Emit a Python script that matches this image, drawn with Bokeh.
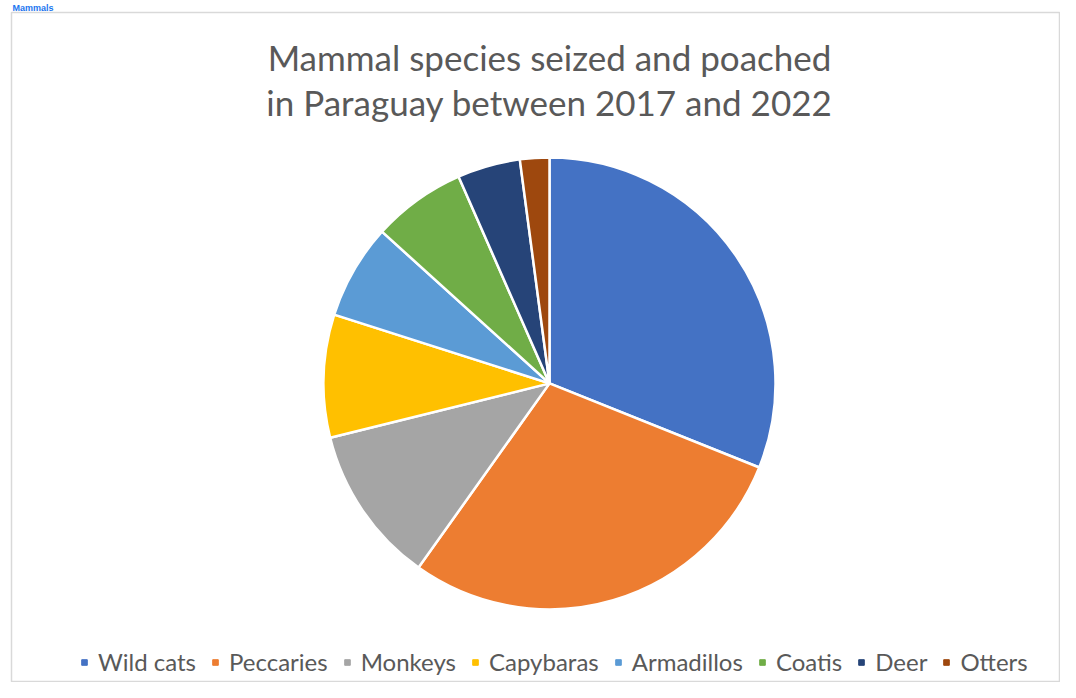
import math
import pandas as pd
from bokeh.plotting import figure
from bokeh.models import Range1d, Legend, LegendItem, ColumnDataSource, Title
from bokeh.core.properties import value
from bokeh.embed import file_html
from bokeh.resources import INLINE

categories = ["Wild cats", "Peccaries", "Monkeys", "Capybaras", "Armadillos", "Coatis", "Deer", "Otters"]
shares = [31.1, 28.8, 11.3, 8.8, 6.8, 6.7, 4.5, 2.1]
colors = ["#4472C4", "#ED7D31", "#A5A5A5", "#FFC000", "#5B9BD5", "#70AD47", "#264478", "#9E480E"]
title_lines = ["Mammal species seized and poached", "in Paraguay between 2017 and 2022"]
section_heading = "Mammals"

W, H = 1060, 682
FONT = "Lato"

df = pd.DataFrame({"cat": categories, "share": shares, "color": colors})
total = df["share"].sum()
frac = df["share"] / total
cum_end = frac.cumsum()
cum_start = cum_end - frac
# clockwise from 12 o'clock; draw anticlockwise from end to start
df["a0"] = math.pi / 2 - cum_end * 2 * math.pi
df["a1"] = math.pi / 2 - cum_start * 2 * math.pi
df["cx"] = 549
df["cy"] = 300
src = ColumnDataSource(df)

p = figure(width=W, height=H, x_range=Range1d(11, W), y_range=Range1d(0, H - 10),
           output_backend="svg", toolbar_location=None,
           min_border_left=11, min_border_top=0, min_border_right=0, min_border_bottom=0,
           x_axis_type=None, y_axis_type=None)
p.title = Title(text=section_heading, align="left", text_font="Liberation Sans",
                text_font_style="bold", text_font_size="9px", text_color="#1A75F0",
                standoff=0, offset=1, text_line_height=1.0)
p.grid.visible = False
p.outline_line_color = "#D9D9D9"
p.outline_line_width = 1.5
p.background_fill_color = "white"
p.border_fill_color = "white"

p.wedge(x="cx", y="cy", radius=226, start_angle="a0", end_angle="a1",
        direction="anticlock", fill_color="color", line_color="white",
        line_width=2.5, source=src)

for i, line in enumerate(title_lines):
    p.text(x=[549], y=[627 - 45 * i], text=[line], text_align="center",
           text_baseline="middle", text_font=value(FONT), text_font_size="35px",
           text_color="#595959")

items = []
for c, col in zip(categories, colors):
    r = p.scatter(x=[float("nan")], y=[float("nan")], marker="square", size=8,
                  fill_color=col, line_color=col)
    items.append(LegendItem(label=c, renderers=[r]))

legend = Legend(items=items, orientation="horizontal", location=(66, 6),
                label_text_font=FONT, label_text_font_size="24px",
                label_text_color="#595959", glyph_width=14, glyph_height=14,
                label_standoff=7, spacing=12, padding=0, margin=0,
                border_line_color=None, background_fill_alpha=0)
p.add_layout(legend, "center")

open("out.html", "w").write(file_html(p, INLINE))
